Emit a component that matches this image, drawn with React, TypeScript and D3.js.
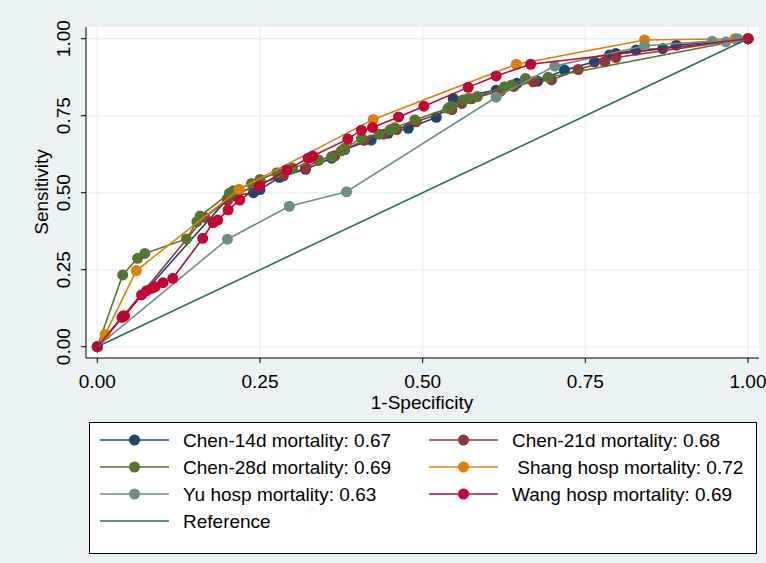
import React, { useEffect, useRef } from 'react'
import * as d3 from 'd3'

type Pt = [number, number]

// ROC points [1-specificity, sensitivity]
const chen14d: Pt[] = [
  [0, 0], [0.04, 0.1], [0.2, 0.48], [0.207, 0.49], [0.24, 0.5], [0.25, 0.51], [0.28, 0.55],
  [0.32, 0.576], [0.36, 0.612], [0.38, 0.64], [0.421, 0.671], [0.447, 0.693], [0.478, 0.709],
  [0.521, 0.745], [0.547, 0.806], [0.613, 0.833], [0.645, 0.855], [0.677, 0.862], [0.718, 0.898],
  [0.764, 0.925], [0.787, 0.947], [0.797, 0.952], [0.828, 0.963], [0.869, 0.968], [0.89, 0.979], [1, 1],
]
const chen21d: Pt[] = [
  [0, 0], [0.04, 0.1], [0.165, 0.42], [0.2, 0.475], [0.21, 0.49], [0.25, 0.53], [0.286, 0.555],
  [0.32, 0.58], [0.34, 0.605], [0.365, 0.62], [0.38, 0.64], [0.41, 0.67], [0.44, 0.69], [0.46, 0.705],
  [0.49, 0.73], [0.545, 0.77], [0.56, 0.79], [0.575, 0.805], [0.62, 0.83], [0.64, 0.845], [0.67, 0.86],
  [0.698, 0.866], [0.739, 0.9], [0.78, 0.925], [0.797, 0.939], [1, 1],
]
const chen28d: Pt[] = [
  [0, 0], [0.039, 0.233], [0.062, 0.287], [0.073, 0.303], [0.137, 0.35], [0.153, 0.406], [0.158, 0.424],
  [0.203, 0.498], [0.209, 0.506], [0.237, 0.53], [0.25, 0.543], [0.276, 0.565], [0.3, 0.58], [0.34, 0.606],
  [0.36, 0.617], [0.375, 0.636], [0.38, 0.644], [0.406, 0.677], [0.433, 0.69], [0.45, 0.704], [0.457, 0.711],
  [0.488, 0.736], [0.539, 0.774], [0.544, 0.781], [0.562, 0.801], [0.57, 0.806], [0.584, 0.812],
  [0.626, 0.844], [0.637, 0.85], [0.658, 0.871], [0.693, 0.875], [1, 1],
]
const shang: Pt[] = [
  [0, 0], [0.012, 0.04], [0.06, 0.247], [0.218, 0.511], [0.424, 0.738], [0.644, 0.917], [0.841, 0.996], [0.98, 1], [1, 1],
]
const yu: Pt[] = [
  [0, 0], [0.2, 0.349], [0.295, 0.456], [0.383, 0.503], [0.613, 0.81], [0.703, 0.911], [0.841, 0.977],
  [0.945, 0.992], [0.966, 0.99], [0.984, 1], [1, 1],
]
const wang: Pt[] = [
  [0, 0], [0.038, 0.095], [0.042, 0.1], [0.068, 0.168], [0.076, 0.182], [0.084, 0.19], [0.089, 0.195],
  [0.101, 0.208], [0.116, 0.222], [0.162, 0.352], [0.178, 0.403], [0.185, 0.411], [0.201, 0.444],
  [0.219, 0.476], [0.249, 0.522], [0.291, 0.574], [0.324, 0.612], [0.331, 0.619], [0.385, 0.674],
  [0.406, 0.703], [0.423, 0.712], [0.463, 0.746], [0.502, 0.781], [0.57, 0.842], [0.613, 0.879], [0.666, 0.917], [1, 1],
]
const reference: Pt[] = [[0, 0], [1, 1]]

const seriesNames = [
  'Chen-14d mortality: 0.67', 'Chen-21d mortality: 0.68', 'Chen-28d mortality: 0.69',
  ' Shang hosp mortality: 0.72', 'Yu hosp mortality: 0.63', 'Wang hosp mortality: 0.69', 'Reference',
]
const seriesData = [chen14d, chen21d, chen28d, shang, yu, wang, reference]
const seriesColors = ['#1a476f', '#90353b', '#55752f', '#e37e00', '#6e8e84', '#c10534', '#2a6b5e']
const ticks = [0, 0.25, 0.5, 0.75, 1]

const W = 766, H = 563
const FONT = 'Liberation Sans, Arial, sans-serif'

export default function App() {
  const ref = useRef<SVGSVGElement>(null)

  useEffect(() => {
    const svg = d3.select(ref.current)
    svg.selectAll('*').remove()

    const x = d3.scaleLinear().domain([0, 1]).range([97.3, 748])
    const y = d3.scaleLinear().domain([0, 1]).range([346.7, 38.7])

    svg.append('rect').attr('width', W).attr('height', H).attr('fill', '#eaf2f3')
    // plot region
    svg.append('rect').attr('x', 86).attr('y', 27).attr('width', 673).attr('height', 331).attr('fill', '#fff')

    const grid = svg.append('g')
    grid.selectAll('.gx').data(ticks).enter().append('line')
      .attr('x1', d => x(d)).attr('x2', d => x(d)).attr('y1', 27).attr('y2', 358)
      .attr('stroke', '#eaf2f3').attr('stroke-width', 1.5)
    grid.selectAll('.gy').data(ticks).enter().append('line')
      .attr('y1', d => y(d)).attr('y2', d => y(d)).attr('x1', 86).attr('x2', 759)
      .attr('stroke', '#eaf2f3').attr('stroke-width', 1.5)

    // axes
    svg.append('line').attr('x1', 86).attr('x2', 86).attr('y1', 27).attr('y2', 358).attr('stroke', '#000')
    svg.append('line').attr('x1', 86).attr('x2', 759).attr('y1', 358).attr('y2', 358).attr('stroke', '#000')
    svg.selectAll('.tx').data(ticks).enter().append('line')
      .attr('x1', d => x(d)).attr('x2', d => x(d)).attr('y1', 358).attr('y2', 363).attr('stroke', '#000')
    svg.selectAll('.ty').data(ticks).enter().append('line')
      .attr('y1', d => y(d)).attr('y2', d => y(d)).attr('x1', 81).attr('x2', 86).attr('stroke', '#000')

    svg.selectAll('.lx').data(ticks).enter().append('text')
      .attr('x', d => x(d)).attr('y', 388).attr('text-anchor', 'middle')
      .attr('font-family', FONT).attr('font-size', 19).attr('fill', '#000')
      .text(d => d3.format('.2f')(d))
    svg.selectAll('.ly').data(ticks).enter().append('text')
      .attr('transform', d => `translate(70,${y(d)}) rotate(-90)`).attr('text-anchor', 'middle')
      .attr('font-family', FONT).attr('font-size', 19).attr('fill', '#000')
      .text(d => d3.format('.2f')(d))

    svg.append('text').attr('x', 422).attr('y', 409).attr('text-anchor', 'middle')
      .attr('font-family', FONT).attr('font-size', 19).text('1-Specificity')
    svg.append('text').attr('transform', 'translate(48,192) rotate(-90)').attr('text-anchor', 'middle')
      .attr('font-family', FONT).attr('font-size', 19).text('Sensitivity')

    const line = d3.line<Pt>().x(d => x(d[0])).y(d => y(d[1]))
    seriesData.forEach((data, i) => {
      const g = svg.append('g')
      g.append('path').attr('d', line(data)).attr('fill', 'none')
        .attr('stroke', seriesColors[i]).attr('stroke-width', 1.6)
      if (i < 6) {
        g.selectAll('circle').data(data).enter().append('circle')
          .attr('cx', d => x(d[0])).attr('cy', d => y(d[1])).attr('r', 5.5)
          .attr('fill', seriesColors[i])
      }
    })

    // legend
    const lg = svg.append('g')
    lg.append('rect').attr('x', 89.5).attr('y', 422.5).attr('width', 667).attr('height', 131)
      .attr('fill', '#fff').attr('stroke', '#000')
    seriesNames.forEach((name, i) => {
      const col = i === 6 ? 0 : i % 2
      const row = i === 6 ? 3 : Math.floor(i / 2)
      const lx = col === 0 ? 100 : 429
      const ly = 440 + row * 27
      lg.append('line').attr('x1', lx).attr('x2', lx + 69).attr('y1', ly).attr('y2', ly)
        .attr('stroke', seriesColors[i]).attr('stroke-width', 1.6)
      if (i < 6) {
        lg.append('circle').attr('cx', lx + 34.5).attr('cy', ly).attr('r', 5.5).attr('fill', seriesColors[i])
      }
      lg.append('text').attr('x', lx + 83).attr('y', ly + 7).attr('font-family', FONT).attr('font-size', 19)
        .attr('xml:space', 'preserve').style('white-space', 'pre').text(name)
    })
  }, [])

  return (
    <svg ref={ref} width={W} height={H} style={{ position: 'fixed', left: 0, top: 0 }} />
  )
}
